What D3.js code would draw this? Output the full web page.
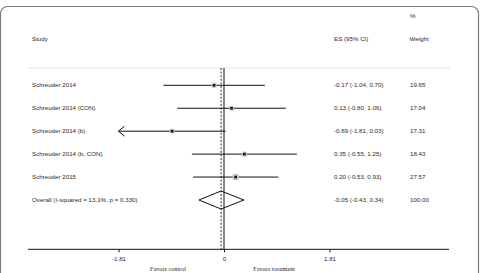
<!DOCTYPE html>
<html><head><meta charset="utf-8">
<script src="https://cdn.jsdelivr.net/npm/d3@7"></script>
<style>
html,body{margin:0;padding:0;background:#fff;}
svg{display:block;}
text{font-family:"Liberation Sans",Arial,sans-serif;font-size:6.2px;fill:#2a2a2a;}
.serif{font-family:"Liberation Serif","Times New Roman",serif;font-size:6.2px;}
</style></head>
<body>
<script>
const studies = ["Schreuder 2014","Schreuder 2014 (CON)","Schreuder 2014 (b)","Schreuder 2014 (b, CON)","Schreuder 2015"];
const es      = [-0.17, 0.13, -0.89, 0.35, 0.20];
const lower   = [-1.04, -0.80, -1.81, -0.55, -0.53];
const upper   = [0.70, 1.06, 0.03, 1.25, 0.93];
const weights = ["19.65","17.04","17.31","18.43","27.57"];
const esLabels = ["-0.17 (-1.04, 0.70)","0.13 (-0.80, 1.06)","-0.89 (-1.81, 0.03)","0.35 (-0.55, 1.25)","0.20 (-0.53, 0.93)"];
const overallLabel = "Overall  (I-squared = 13.1%, p = 0.330)";
const overallES = -0.05, overallLo = -0.43, overallHi = 0.34;
const overallESLabel = "-0.05 (-0.43, 0.34)";
const overallWeight = "100.00";
const tickVals = [-1.81, 0, 1.81];
const tickLabels = ["-1.81","0","1.81"];
const favorLabels = ["Favors control","Favors treatment"];
const favorPos = [-0.96, 0.86];

const W=483,H=273;
const svg=d3.select("body").append("svg").attr("width",W).attr("height",H);

// frame
svg.append("rect").attr("x",0.5).attr("y",6.5).attr("width",478).attr("height",320)
  .attr("rx",7).attr("fill","none").attr("stroke","#7a7a7a").attr("stroke-width",1.2);

const x=d3.scaleLinear().domain([-1.81,1.81]).range([118.5,329.5]);
const rows=d3.range(studies.length+1);
const y=d3.scalePoint().domain(rows).range([85.3,200]);
const axisY=249.3, topY=68;

// headers
svg.append("text").attr("x",32).attr("y",41).text("Study");
svg.append("text").attr("x",334).attr("y",41).text("ES (95% CI)");
svg.append("text").attr("x",410).attr("y",18).text("%");
svg.append("text").attr("x",409.5).attr("y",41).text("Weight");

// separator
svg.append("line").attr("x1",28).attr("x2",450).attr("y1",topY).attr("y2",topY)
  .attr("stroke","#e2e2e2").attr("stroke-width",1);

// zero line and overall dashed line
svg.append("line").attr("x1",x(0)).attr("x2",x(0)).attr("y1",topY).attr("y2",axisY)
  .attr("stroke","#111").attr("stroke-width",1);
svg.append("line").attr("x1",x(overallES)).attr("x2",x(overallES)).attr("y1",topY).attr("y2",axisY)
  .attr("stroke","#111").attr("stroke-width",0.9).attr("stroke-dasharray","2,1.6");

// study rows
const [xmin,xmax]=x.domain();
studies.forEach((s,i)=>{
  const yy=y(i);
  svg.append("text").attr("x",32).attr("y",yy+2).text(s);
  svg.append("text").attr("x",334).attr("y",yy+2).text(esLabels[i]);
  svg.append("text").attr("x",410).attr("y",yy+2).text(weights[i]);
  const lo=Math.max(lower[i],xmin), hi=Math.min(upper[i],xmax);
  svg.append("line").attr("x1",x(lo)).attr("x2",x(hi)).attr("y1",yy).attr("y2",yy)
    .attr("stroke","#111").attr("stroke-width",1);
  if(lower[i]<=xmin){
    svg.append("path").attr("d",`M${x(lo)+6},${yy-5}L${x(lo)},${yy}L${x(lo)+6},${yy+5}`)
      .attr("fill","none").attr("stroke","#111").attr("stroke-width",1);
  }
  const bs=Math.sqrt(+weights[i])*1.15;
  svg.append("rect").attr("x",x(es[i])-bs/2).attr("y",yy-bs/2).attr("width",bs).attr("height",bs)
    .attr("fill","#c8c8c8");
  svg.append("rect").attr("x",x(es[i])-1.3).attr("y",yy-1.3).attr("width",2.6).attr("height",2.6)
    .attr("fill","#111");
});

// overall
const oy=y(studies.length);
svg.append("text").attr("x",32).attr("y",oy+2).text(overallLabel);
svg.append("text").attr("x",334).attr("y",oy+2).text(overallESLabel);
svg.append("text").attr("x",410).attr("y",oy+2).text(overallWeight);
svg.append("path")
  .attr("d",`M${x(overallLo)},${oy}L${x(overallES)},${oy-9}L${x(overallHi)},${oy}L${x(overallES)},${oy+9}Z`)
  .attr("fill","none").attr("stroke","#111").attr("stroke-width",1);

// axis
const ax=svg.append("g").attr("transform",`translate(0,${axisY})`)
  .call(d3.axisBottom(x).tickValues(tickVals).tickFormat((d,i)=>tickLabels[i]).tickSize(3).tickPadding(4));
ax.select(".domain").remove();
ax.selectAll(".tick line").attr("stroke","#111");
ax.selectAll(".tick text").attr("font-size",6.2).attr("font-family","Liberation Sans, Arial, sans-serif").attr("fill","#2a2a2a");
svg.append("line").attr("x1",28).attr("x2",449).attr("y1",axisY).attr("y2",axisY)
  .attr("stroke","#111").attr("stroke-width",1);

favorLabels.forEach((t,i)=>{
  svg.append("text").attr("class","serif").attr("x",x(favorPos[i])).attr("y",270.5)
    .attr("text-anchor","middle").text(t);
});
</script>
</body></html>
